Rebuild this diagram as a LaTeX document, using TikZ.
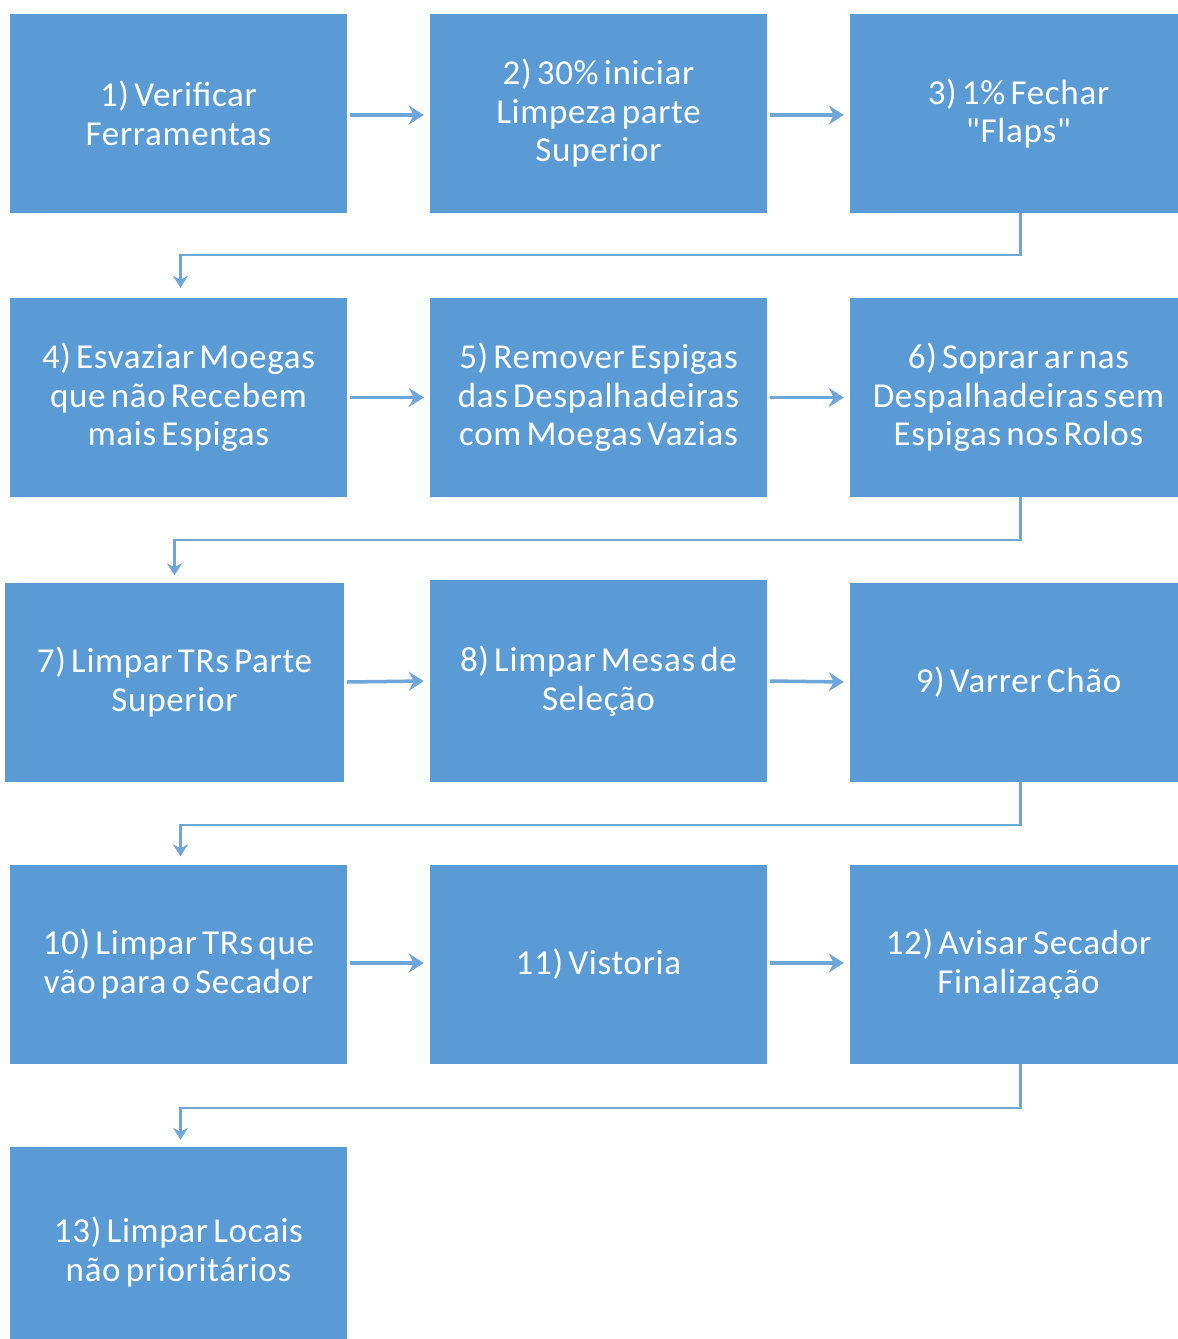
\documentclass[tikz,border=0pt]{standalone}
\usepackage{fontspec}
\setmainfont{Carlito}[Ligatures=TeXOff,LetterSpace=2,WordSpace=0.6]
\usetikzlibrary{arrows.meta}
\definecolor{boxblue}{HTML}{5B9BD5}
\definecolor{linkblue}{HTML}{6FA6DA}
\begin{document}
\begin{tikzpicture}[x=1pt,y=-1pt,
  stepbox/.style={fill=boxblue, draw=none, minimum width=337pt, minimum height=199pt,
    inner sep=0pt, text=white, align=center, font=\fontsize{35}{38.5}\selectfont},
  hlink/.style={linkblue, line width=3.5pt, -{Stealth[length=15pt,width=19pt,inset=5pt]}},
  vlink/.style={linkblue, line width=2.2pt, -{Stealth[length=12pt,width=15pt,inset=4pt]}}]
\useasboundingbox (0,0) rectangle (1178,1339);
% row 1
\node[stepbox] (b1) at (178.5,113.5) {1) Verificar\\Ferramentas};
\node[stepbox] (b2) at (598.5,113.5) {2) 30\% iniciar\\Limpeza parte\\Superior};
\node[stepbox] (b3) at (1018.5,113.5) {3) 1\% Fechar\\"Flaps"};
% row 2
\node[stepbox] (b4) at (178.5,397.5) {4) Esvaziar Moegas\\que não Recebem\\mais Espigas};
\node[stepbox] (b5) at (598.5,397.5) {5) Remover Espigas\\das Despalhadeiras\\com Moegas Vazias};
\node[stepbox] (b6) at (1018.5,397.5) {6) Soprar ar nas\\Despalhadeiras sem\\Espigas nos Rolos};
% row 3
\node[stepbox, minimum width=339pt] (b7) at (174.5,682) {7) Limpar TRs Parte\\Superior};
\node[stepbox, minimum height=202pt] (b8) at (598.5,681) {8) Limpar Mesas de\\Seleção};
\node[stepbox] (b9) at (1018.5,682) {9) Varrer Chão};
% row 4
\node[stepbox] (b10) at (178.5,964) {10) Limpar TRs que\\vão para o Secador};
\node[stepbox] (b11) at (598.5,964) {11) Vistoria};
\node[stepbox] (b12) at (1018.5,964) {12) Avisar Secador\\Finalização};
% row 5
\node[stepbox, minimum height=210pt] (b13) at (178.5,1252) {13) Limpar Locais\\não prioritários};
% links within rows
\draw[hlink] ([xshift=3pt,yshift=-1.5pt]b1.east) -- ([xshift=-6pt,yshift=-1.5pt]b2.west);
\draw[hlink] ([xshift=3pt,yshift=-1.5pt]b2.east) -- ([xshift=-6pt,yshift=-1.5pt]b3.west);
\draw[hlink] ([xshift=3pt]b4.east) -- ([xshift=-6pt]b5.west);
\draw[hlink] ([xshift=3pt]b5.east) -- ([xshift=-6pt]b6.west);
\draw[hlink] ([xshift=3pt]b7.east) -- ([xshift=-6pt]b8.west);
\draw[hlink] ([xshift=3pt]b8.east) -- ([xshift=-6pt]b9.west);
\draw[hlink] ([xshift=3pt,yshift=1pt]b10.east) -- ([xshift=-6pt,yshift=1pt]b11.west);
\draw[hlink] ([xshift=3pt,yshift=1pt]b11.east) -- ([xshift=-6pt,yshift=1pt]b12.west);
% links between rows
\draw[vlink] ([xshift=2pt]b3.south) |- ++(0,42) -| ([xshift=2pt,yshift=10pt]b4.north);
\draw[vlink] ([xshift=2pt]b6.south) |- ++(0,43) -| ([yshift=7pt]b7.north);
\draw[vlink] ([xshift=2pt]b9.south) |- ++(0,43) -| ([xshift=2pt,yshift=8pt]b10.north);
\draw[vlink] ([xshift=2pt]b12.south) |- ++(0,44) -| ([xshift=2pt,yshift=7pt]b13.north);
\end{tikzpicture}
\end{document}
